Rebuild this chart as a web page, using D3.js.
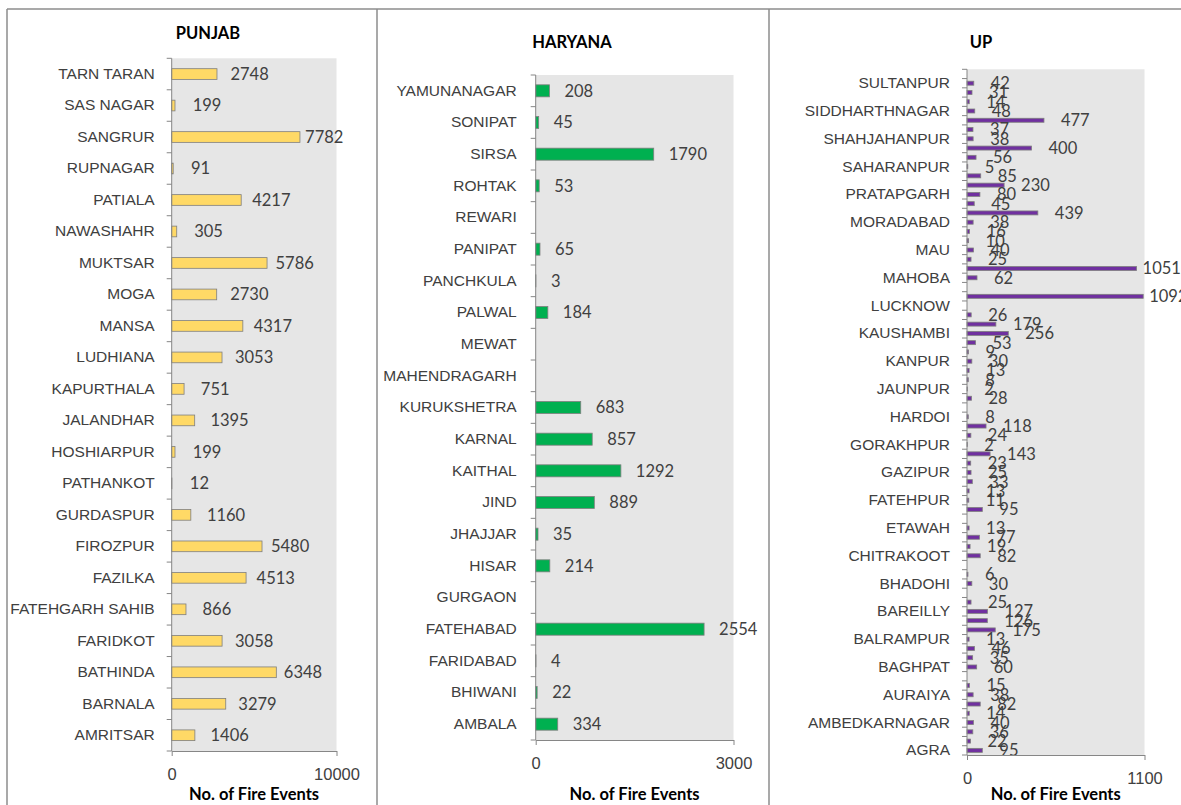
<!DOCTYPE html>
<html>
<head>
<meta charset="utf-8">
<script src="https://cdn.jsdelivr.net/npm/d3@7"></script>
<style>
  body { margin: 0; background: #fff; }
  svg { display: block; font-family: Lato, "Open Sans", sans-serif; }
  .val, .tick text { font-size: 16.5px; fill: #404040; }
  .tick text.cat { font-size: 15.5px; fill: #404040; }
  .title, .axTitle { font-size: 16.5px; font-weight: bold; fill: #000; }
</style>
</head>
<body>
<svg id="chart" width="1181" height="805"></svg>
<script>
// all lists run from the bottom of each chart to the top (alphabetical)

// PUNJAB
const punjabDistricts = ['AMRITSAR', 'BARNALA', 'BATHINDA', 'FARIDKOT', 'FATEHGARH SAHIB', 'FAZILKA',
  'FIROZPUR', 'GURDASPUR', 'PATHANKOT', 'HOSHIARPUR', 'JALANDHAR', 'KAPURTHALA', 'LUDHIANA', 'MANSA',
  'MOGA', 'MUKTSAR', 'NAWASHAHR', 'PATIALA', 'RUPNAGAR', 'SANGRUR', 'SAS NAGAR', 'TARN TARAN'];
const punjabFires = [1406, 3279, 6348, 3058, 866, 4513, 5480, 1160, 12, 199, 1395, 751, 3053, 4317,
  2730, 5786, 305, 4217, 91, 7782, 199, 2748];

// HARYANA (null = no value reported)
const haryanaDistricts = ['AMBALA', 'BHIWANI', 'FARIDABAD', 'FATEHABAD', 'GURGAON', 'HISAR', 'JHAJJAR',
  'JIND', 'KAITHAL', 'KARNAL', 'KURUKSHETRA', 'MAHENDRAGARH', 'MEWAT', 'PALWAL', 'PANCHKULA', 'PANIPAT',
  'REWARI', 'ROHTAK', 'SIRSA', 'SONIPAT', 'YAMUNANAGAR'];
const haryanaFires = [334, 22, 4, 2554, null, 214, 35, 889, 1292, 857, 683, null, null, 184, 3, 65,
  null, 53, 1790, 45, 208];

// UP: only every third district name is printed on the axis
const upDistricts = ['AGRA', 'ALIGARH', 'ALLAHABAD', 'AMBEDKARNAGAR', 'AMETHI', 'AMROHA', 'AURAIYA',
  'AZAMGARH', 'BADAUN', 'BAGHPAT', 'BAHRAICH', 'BALLIA', 'BALRAMPUR', 'BANDA', 'BARABANKI', 'BAREILLY',
  'BASTI', 'BIJNOR', 'BHADOHI', 'BUDAUN', 'BULANDSHAHR', 'CHITRAKOOT', 'CHANDAULI', 'DEORIA', 'ETAWAH',
  'ETAH', 'FAIZABAD', 'FATEHPUR', 'FARRUKHABAD', 'FIROZABAD', 'GAZIPUR', 'GAUTAM BUDDHA NAGAR',
  'GHAZIABAD', 'GORAKHPUR', 'GONDA', 'HAMIRPUR', 'HARDOI', 'HATHRAS', 'JALAUN', 'JAUNPUR', 'JHANSI',
  'KANNAUJ', 'KANPUR', 'KANPUR DEHAT', 'KASGANJ', 'KAUSHAMBI', 'KHERI', 'KUSHINAGAR', 'LUCKNOW',
  'LALITPUR', 'MAHARAJGANJ', 'MAHOBA', 'MAINPURI', 'MATHURA', 'MAU', 'MEERUT', 'MIRZAPUR', 'MORADABAD',
  'MUZAFFARNAGAR', 'PILIBHIT', 'PRATAPGARH', 'RAEBARELI', 'RAMPUR', 'SAHARANPUR', 'SAMBHAL',
  'SANT KABIR NAGAR', 'SHAHJAHANPUR', 'SHAMLI', 'SHRAVASTI', 'SIDDHARTHNAGAR', 'SITAPUR', 'SONBHADRA',
  'SULTANPUR', 'UNNAO'];
const upFires = [95, 22, 36, 40, 14, 82, 38, 15, null, 60, 35, 46, 13, 175, 126, 127, 25, null, 30, 6,
  null, 82, 19, 77, 13, null, 95, 11, 13, 33, 25, 23, 143, 2, 24, 118, 8, null, 28, 2, 8, 13, 30, 9, 53,
  256, 179, 26, null, 1092, null, 62, 1051, 25, 40, 10, 16, 38, 439, 45, 80, 230, 85, 5, 56, 400, 38, 37,
  477, 48, 14, 31, 42, null];
const upShown = upDistricts.filter((d, i) => i % 3 === 0);

const xMaxPunjab = 10000, xMaxHaryana = 3000, xMaxUp = 1100;

const svg = d3.select('#chart');

// panel frames
const frame = svg.append('g').attr('class', 'frame')
  .style('stroke', '#8c8c8c').style('stroke-width', 1.5);
frame.append('line').attr('x1', 7).attr('x2', 1181).attr('y1', 9).attr('y2', 9);
[7, 377, 769].forEach(x => {
  frame.append('line').attr('x1', x).attr('x2', x).attr('y1', 9).attr('y2', 805);
});

function drawPanel(p) {
  const g = svg.append('g').attr('transform', `translate(${p.left},${p.top})`);
  const w = p.width, h = p.height;

  const y = d3.scaleBand()
    .domain(p.names)
    .range([h, 0])
    .paddingInner(p.pad)
    .paddingOuter(p.pad / 2);

  const x = d3.scaleLinear()
    .domain([0, p.max])
    .range([0, w]);

  // plot background
  g.append('rect')
    .attr('width', w).attr('height', h)
    .attr('fill', '#e6e6e6');

  const rows = p.names.map((d, i) => ({ name: d, value: p.values[i] }))
    .filter(d => d.value != null);

  g.selectAll('.bar').data(rows)
    .join('rect')
    .attr('class', 'bar')
    .attr('x', 0)
    .attr('y', d => y(d.name))
    .attr('width', d => x(d.value))
    .attr('height', y.bandwidth())
    .attr('fill', p.color)
    .attr('stroke', '#7f7f7f')
    .attr('stroke-width', 0.8);

  // labels sit a little after the bar end; long bars get pulled in
  const labelX = v => {
    const bx = x(v);
    if (bx > w * 0.9 && p.edgeGap != null) return bx + p.edgeGap;
    return p.labelGap + bx * p.stretch;
  };

  g.selectAll('.val').data(rows)
    .join('text')
    .attr('class', 'val')
    .attr('x', d => labelX(d.value))
    .attr('y', d => y(d.name) + y.bandwidth() / 2)
    .attr('dy', '0.36em')
    .text(d => d.value);

  // category axis
  const yAxis = d3.axisLeft(y)
    .tickSize(0)
    .tickPadding(p.catPad)
    .tickFormat(d => (p.shown ? p.shown.includes(d) : true) ? d : '');
  const ya = g.append('g').call(yAxis);
  ya.select('.domain').remove();
  ya.selectAll('text').attr('class', 'cat');

  // tick marks between categories
  const edges = p.names.map(d => y(d) - y.step() * p.pad / 2).concat([h]);
  g.selectAll('.ctick').data(edges)
    .join('line')
    .attr('class', 'ctick')
    .attr('x1', -5).attr('x2', 0)
    .attr('y1', d => d).attr('y2', d => d)
    .attr('stroke', '#868686');
  g.append('line')
    .attr('x1', 0).attr('x2', 0).attr('y1', 0).attr('y2', h)
    .attr('stroke', '#868686');

  // value axis
  const xa = g.append('g')
    .attr('transform', `translate(0,${h})`)
    .call(d3.axisBottom(x)
      .tickValues([0, p.max])
      .tickFormat(d3.format('d'))
      .tickSize(5).tickSizeOuter(0).tickPadding(12));
  xa.selectAll('.domain, .tick line').attr('stroke', '#868686');

  g.append('text')
    .attr('class', 'axTitle')
    .attr('x', w / 2)
    .attr('y', 794 - p.top)
    .attr('dy', '0.36em')
    .attr('text-anchor', 'middle')
    .text('No. of Fire Events');

  svg.append('text')
    .attr('class', 'title')
    .attr('x', p.titleX)
    .attr('y', p.titleY)
    .attr('dy', '0.36em')
    .attr('text-anchor', 'middle')
    .text(p.title);
}

drawPanel({
  title: 'PUNJAB', titleX: 208, titleY: 33,
  names: punjabDistricts, values: punjabFires, max: xMaxPunjab,
  left: 171.7, top: 58.3, width: 164.8, height: 692.7,
  pad: 0.66, color: '#ffd966', labelGap: 18, stretch: 0.9, catPad: 17
});

drawPanel({
  title: 'HARYANA', titleX: 572, titleY: 42,
  names: haryanaDistricts, values: haryanaFires, max: xMaxHaryana,
  left: 535.7, top: 75, width: 197.8, height: 665,
  pad: 0.62, color: '#00b050', labelGap: 15, stretch: 1, catPad: 19
});

drawPanel({
  title: 'UP', titleX: 981, titleY: 42,
  names: upDistricts, values: upFires, max: xMaxUp, shown: upShown,
  left: 967, top: 69.3, width: 177.5, height: 685.7,
  pad: 0.57, color: '#7030a0', labelGap: 17, stretch: 1, edgeGap: 6, catPad: 17
});
</script>
</body>
</html>
